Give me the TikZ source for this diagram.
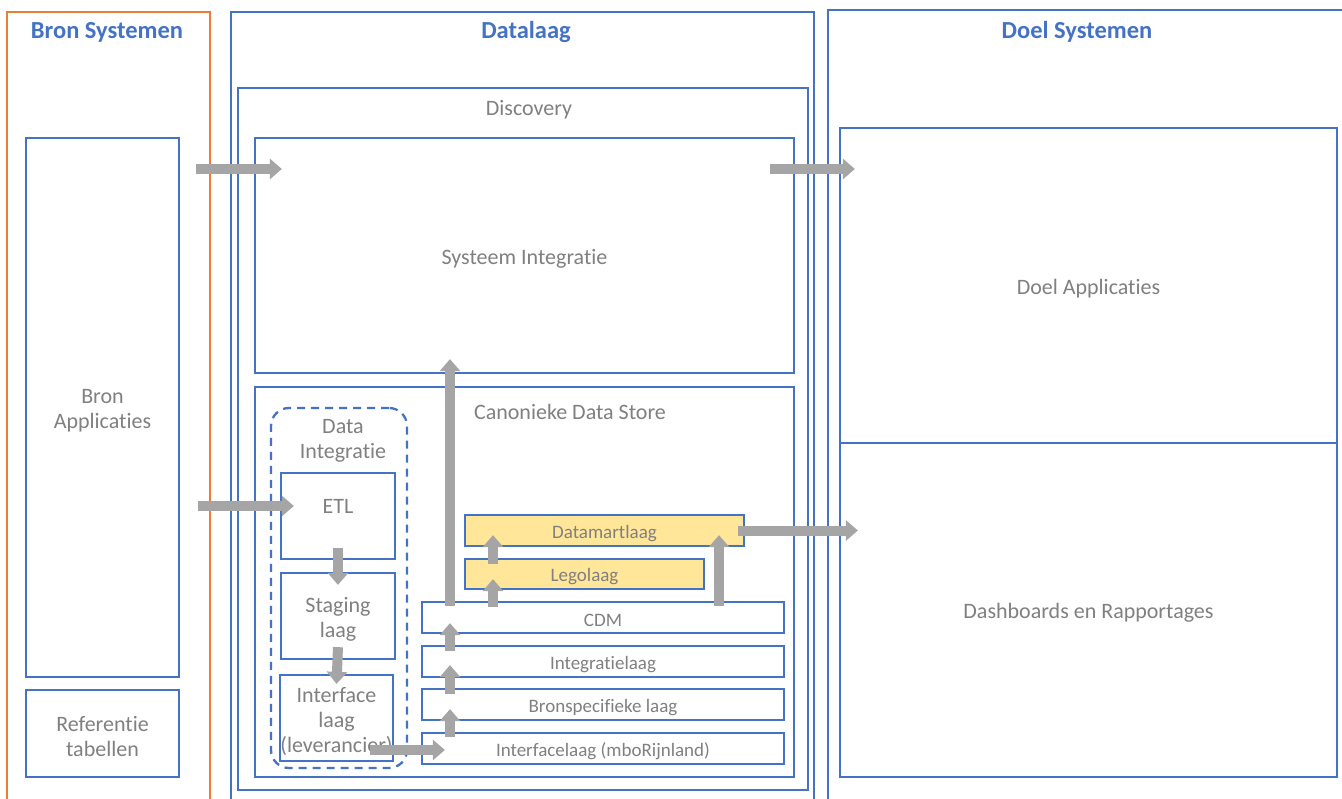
\documentclass[tikz,border=0pt]{standalone}
\usepackage{fontspec}
\setmainfont{Carlito}[Ligatures={NoCommon,NoContextual}]
\usetikzlibrary{arrows.meta,fit}
\definecolor{boxblue}{HTML}{4472C4}
\definecolor{srcorange}{HTML}{ED7D31}
\definecolor{txtgray}{HTML}{808080}
\definecolor{flowgray}{HTML}{A5A5A5}
\definecolor{layeryellow}{HTML}{FFE699}
\begin{document}
\begin{tikzpicture}[x=1pt,y=-1pt,
  frame/.style={draw=boxblue, line width=2.3pt, inner sep=0pt},
  srcframe/.style={frame, draw=srcorange},
  marklayer/.style={frame, fill=layeryellow},
  groupframe/.style={frame, dashed, dash pattern=on 8pt off 6pt, rounded corners=18pt},
  heading/.style={text=boxblue, font=\fontsize{24.5}{28}\selectfont\bfseries, inner sep=0pt},
  caption/.style={text=txtgray, font=\fontsize{22}{25}\selectfont, align=center, inner sep=0pt},
  small/.style={text=txtgray, font=\fontsize{19}{22}\selectfont, inner sep=0pt},
  inside/.style={label={[caption, yshift=-3pt]center:#1}},
  insidesmall/.style={label={[small, yshift=-3pt]center:#1}},
  flow/.style={draw=flowgray, line width=10pt, -{Triangle[width=20pt,length=12pt]}}
]
\useasboundingbox (0,0) rectangle (1342,799);
\fill[white] (0,0) rectangle (1342,799);
\clip (0,0) rectangle (1342,799);

% outer columns
\node[srcframe, fit={(7,12) (210,830)}] (bron) {};
\node[frame, fit={(231,12) (814,830)}] (datalaag) {};
\node[frame, fit={(828,10) (1360,830)}] (doel) {};
\node[heading] (bron-title) at (107,32) {Bron Systemen};
\node[heading] (datalaag-title) at (526,32) {Datalaag};
\node[heading] (doel-title) at (1077,32) {Doel Systemen};

% source systems
\node[frame, fit={(26,138) (179,677)}, inside={Bron\\Applicaties}] (bronapp) {};
\node[frame, fit={(26,690) (179,777)}, inside={Referentie\\tabellen}] (reftab) {};

% data layer
\node[frame, fit={(238,88) (808,790)}] (discovery) {};
\node[caption] (discovery-title) at (529,110) {Discovery};
\node[frame, fit={(255,138) (794,373)}, inside={Systeem Integratie}] (sysint) {};
\node[frame, fit={(255,387) (794,777)}] (cds) {};
\node[caption] (cds-title) at (570,412) {Canonieke Data Store};

\node[groupframe, fit={(271,408) (407,768)}] (dataint) {};
\node[caption] (dataint-title) at (343,441) {Data\\Integratie};
\node[frame, fit={(281,473) (395,559)}] (etl) {};
\node[caption] (etl-title) at (338,506) {ETL};
\node[frame, fit={(281,573) (395,659)}, inside={Staging\\laag}] (staging) {};
\node[frame, fit={(280,675) (393,761)}, inside={Interface\\laag\\(leverancier)}] (iface) {};

\node[marklayer, fit={(465,515) (744,546)}, insidesmall={Datamartlaag}] (dm) {};
\node[marklayer, fit={(465,559) (704,589)}, insidesmall={Legolaag}] (lego) {};
\node[frame, fit={(422,602) (784,633)}, insidesmall={CDM}] (cdm) {};
\node[frame, fit={(422,646) (784,677)}, insidesmall={Integratielaag}] (intl) {};
\node[frame, fit={(422,689) (784,720)}, insidesmall={Bronspecifieke laag}] (bsl) {};
\node[frame, fit={(422,733) (784,764)}, insidesmall={Interfacelaag (mboRijnland)}] (ifl) {};

% target systems
\node[frame, fit={(840,128) (1337,443)}, inside={Doel Applicaties}] (doelapp) {};
\node[frame, fit={(840,443) (1337,777)}, inside={Dashboards en Rapportages}] (dash) {};

% flows
\coordinate (row-top) at (0,169);
\coordinate (row-etl) at (0,506);
\coordinate (row-ifl) at (0,750);
\coordinate (col-a) at (450,0);
\coordinate (col-b) at (493,0);
\coordinate (col-c) at (719,0);

\draw[flow] ([xshift=16pt]bronapp.east |- row-top) -- ([xshift=28pt]sysint.west |- row-top);
\draw[flow] ([xshift=-25pt]sysint.east |- row-top) -- ([xshift=16pt]doelapp.west |- row-top);
\draw[flow] ([xshift=18pt]bronapp.east |- row-etl) -- ([xshift=14pt]etl.west |- row-etl);
\draw[flow] ([yshift=12pt]etl.south) -- ([yshift=-13pt]staging.north);
\draw[flow] ([yshift=13pt]staging.south) -- ([yshift=-10pt]iface.north);
\draw[flow] ([xshift=-24pt]iface.east |- row-ifl) -- ([xshift=24pt]ifl.west |- row-ifl);

\draw[flow] ([yshift=-5pt]col-a |- ifl.north) -- ([yshift=12pt]col-a |- bsl.south);
\draw[flow] ([yshift=-6pt]col-a |- bsl.north) -- ([yshift=13pt]col-a |- intl.south);
\draw[flow] ([yshift=-6pt]col-a |- intl.north) -- ([yshift=11pt]col-a |- cdm.south);
\draw[flow] ([yshift=-5pt]col-a |- cdm.north) -- ([yshift=15pt]col-a |- sysint.south);

\draw[flow] ([yshift=-6pt]col-b |- cdm.north) -- ([yshift=11pt]col-b |- lego.south);
\draw[flow] ([yshift=-6pt]col-b |- lego.north) -- ([yshift=12pt]col-b |- dm.south);
\draw[flow] ([yshift=-5pt]col-c |- cdm.north) -- ([yshift=12pt]col-c |- dm.south);
\draw[flow] ([xshift=-7pt]dm.east) -- ([xshift=19pt]dash.west |- dm.east);
\end{tikzpicture}
\end{document}
